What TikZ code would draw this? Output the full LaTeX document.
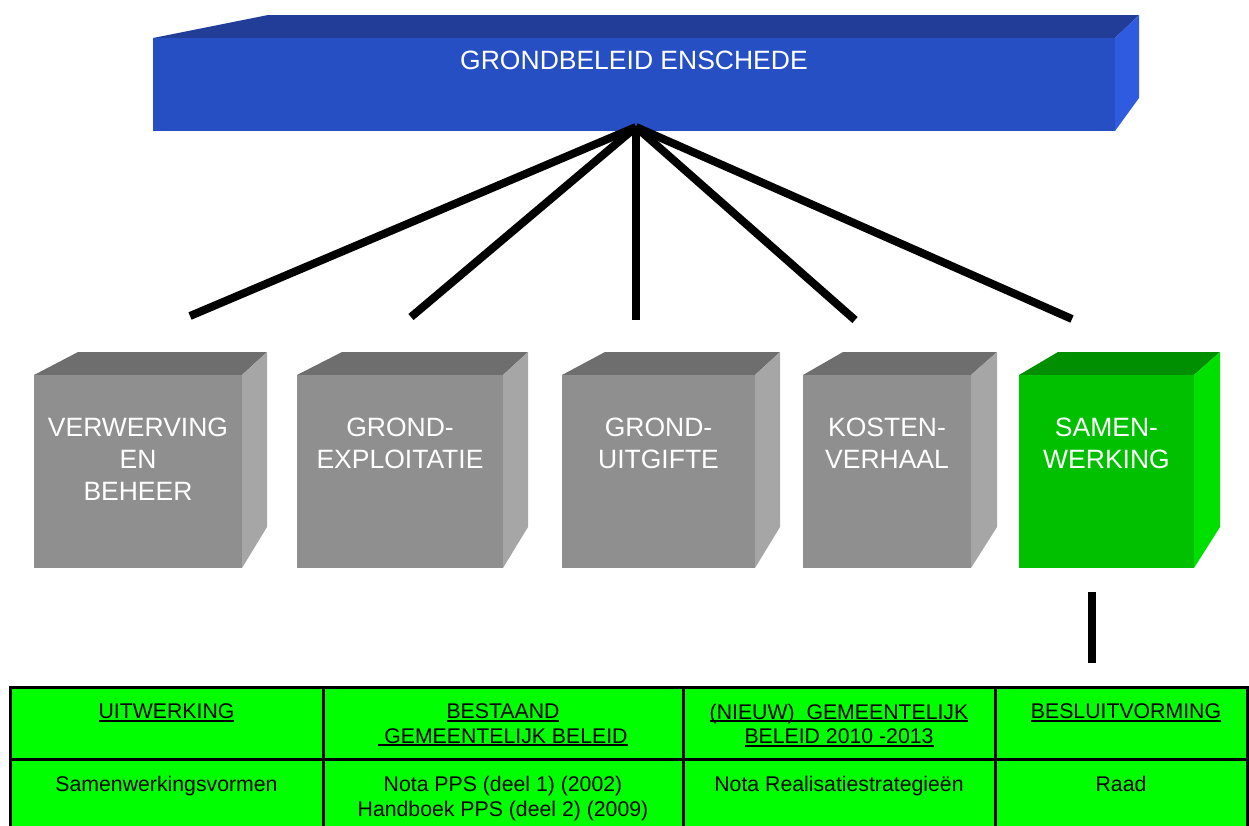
\documentclass[tikz,border=0pt]{standalone}
\usepackage{fontspec}
\setmainfont{Liberation Sans}
\definecolor{bluefront}{RGB}{38,79,196}
\definecolor{bluetop}{RGB}{33,61,152}
\definecolor{blueside}{RGB}{46,91,224}
\definecolor{grayfront}{RGB}{143,143,143}
\definecolor{graytop}{RGB}{110,110,110}
\definecolor{grayside}{RGB}{166,166,166}
\definecolor{greenfront}{RGB}{0,192,0}
\definecolor{greentop}{RGB}{0,143,0}
\definecolor{greenside}{RGB}{0,224,0}
\definecolor{tablegreen}{RGB}{0,255,0}
\newcommand{\ulx}[1]{\setbox0=\hbox{#1}\rlap{\rule[-3pt]{\wd0}{1.7pt}}\box0}
\tikzset{
  conn/.style={line width=8pt, black},
  gridline/.style={line width=3pt, black},
  boxlabel/.style={text=white, font=\fontsize{26.5}{32}\selectfont, align=center, anchor=north, inner sep=0pt},
  celltext/.style={text=black, font=\fontsize{21.25}{24.5}\selectfont, align=center, anchor=north, inner sep=0pt},
  frontface/.style={inner sep=0pt, outer sep=0pt, anchor=north west},
}
% #1 name, #2 xl, #3 xr, #4 dl, #5 dr, #6 front, #7 top, #8 side, #9 text
\newcommand{\mycube}[9]{%
  \fill[#7] (#2,375) -- ({#2+#4},352) -- ({#3+#5},352) -- (#3,375) -- cycle;
  \fill[#8] (#3,375) -- ({#3+#5},352) -- ({#3+#5},527) -- (#3,568) -- cycle;
  \node[frontface, fill=#6, minimum width={(#3-#2)*1pt}, minimum height=193pt] (#1) at (#2,375) {};
  \node[boxlabel] (#1-lbl) at ({(#2+#3)/2},417.5) {#9};
}
\begin{document}
\begin{tikzpicture}[x=1pt,y=-1pt]
\clip (0,0) rectangle (1249,825);
% top bar
\fill[bluetop] (153,38) -- (268,15) -- (1139,15) -- (1115,38) -- cycle;
\fill[blueside] (1115,38) -- (1139,15) -- (1139,98) -- (1115,131) -- cycle;
\node[frontface, fill=bluefront, minimum width=962pt, minimum height=93pt] (top) at (153,38) {};
\node[boxlabel] (toplbl) at (634,50.5) {GRONDBELEID ENSCHEDE};
% cubes
\mycube{c1}{34}{242}{44}{25}{grayfront}{graytop}{grayside}{VERWERVING\\EN\\BEHEER}
\mycube{c2}{297}{503}{45}{25}{grayfront}{graytop}{grayside}{GROND-\\EXPLOITATIE}
\mycube{c3}{562}{755}{43}{25}{grayfront}{graytop}{grayside}{GROND-\\UITGIFTE}
\mycube{c4}{803}{971}{40}{26}{grayfront}{graytop}{grayside}{KOSTEN-\\VERHAAL}
\mycube{c5}{1019}{1194}{39}{26}{greenfront}{greentop}{greenside}{SAMEN-\\WERKING}
% connectors
\coordinate (apex) at (636,127);
\coordinate (e1) at (190,316);
\coordinate (e2) at (411,317);
\coordinate (e3) at (636,320);
\coordinate (e4) at (855,320);
\coordinate (e5) at (1072,319);
\foreach \e in {e1,e2,e3,e4,e5} \draw[conn] (apex) -- (\e);
\coordinate (s1) at (1092,592);
\coordinate (s2) at (1092,663);
\draw[conn] (s1) -- (s2);
% table
\fill[tablegreen] (10,687) rectangle (1247,840);
\draw[gridline] (10,687) rectangle (1247,840);
\draw[gridline] (10,759) -- (1247,759);
\draw[gridline] (323,687) -- (323,840);
\draw[gridline] (683,687) -- (683,840);
\draw[gridline] (995,687) -- (995,840);
\node[celltext] (h1) at (166.5,703.5) {\ulx{UITWERKING}};
\node[celltext] (h2) at (503,703.5) {\ulx{BESTAAND}\\\ulx{\ GEMEENTELIJK BELEID}};
\node[celltext] (h3) at (839,703.5) {\ulx{(NIEUW)\ \ GEMEENTELIJK}\\\ulx{BELEID 2010 -2013}};
\node[celltext] (h4) at (1126,703.5) {\ulx{BESLUITVORMING}};
\node[celltext] (b1) at (166.5,776) {Samenwerkingsvormen};
\node[celltext] (b2) at (503,776) {Nota PPS (deel 1) (2002)\\Handboek PPS (deel 2) (2009)};
\node[celltext] (b3) at (839,776) {Nota Realisatiestrategieën};
\node[celltext] (b4) at (1121,776) {Raad};
\end{tikzpicture}
\end{document}
